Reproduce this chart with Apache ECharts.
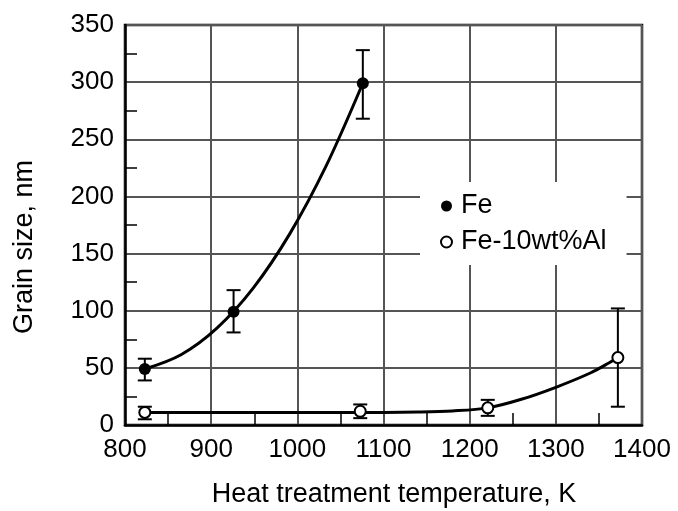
<!DOCTYPE html>
<html>
<head>
<meta charset="utf-8">
<script src="https://cdn.jsdelivr.net/npm/echarts@6/dist/echarts.min.js"></script>
<style>html,body{margin:0;padding:0;background:#fff}#c{width:678px;height:511px}</style>
</head>
<body>
<div id="c"></div>
<script>
// Data
var feX = [823, 926, 1076];
var feY = [49, 99, 299];
var feLow = [39, 81, 268];
var feHigh = [58, 118, 328];

var alX = [823, 1073, 1221, 1372];
var alY = [11, 12, 15, 59];
var alLow = [5, 6, 8, 16];
var alHigh = [16, 18, 22, 102];

// Fitted curves
var feCurveX = [823, 865, 907, 949, 991, 1033, 1076];
var feCurveY = [49, 61.5, 85, 120, 167, 226, 299];
var alCurveX = [823, 1000, 1100, 1140, 1180, 1221, 1260, 1300, 1340, 1362, 1372];
var alCurveY = [11, 11, 11, 11.3, 12.3, 15, 22.5, 33, 45.5, 54.5, 59];

var xTicks = [800, 900, 1000, 1100, 1200, 1300, 1400];
var yTicks = [0, 50, 100, 150, 200, 250, 300, 350];

var FONT = '"Liberation Sans", Arial, Helvetica, sans-serif';

function pairs(xs, ys) { return xs.map(function (x, i) { return [x, ys[i]]; }); }
function bars(xs, lo, hi) { return xs.map(function (x, i) { return [x, lo[i], hi[i]]; }); }

function errRender(params, api) {
  var x = api.value(0);
  var lo = api.coord([x, api.value(1)]);
  var hi = api.coord([x, api.value(2)]);
  var w = 7;
  var st = { stroke: '#000', lineWidth: 2 };
  return {
    type: 'group',
    children: [
      { type: 'line', shape: { x1: lo[0], y1: lo[1], x2: hi[0], y2: hi[1] }, style: st },
      { type: 'line', shape: { x1: lo[0] - w, y1: lo[1], x2: lo[0] + w, y2: lo[1] }, style: st },
      { type: 'line', shape: { x1: hi[0] - w, y1: hi[1], x2: hi[0] + w, y2: hi[1] }, style: st }
    ]
  };
}

var chart = echarts.init(document.getElementById('c'), null, { renderer: 'canvas' });
var option = {
  backgroundColor: '#fff',
  animation: false,
  grid: { left: 125, right: 36, top: 25, bottom: 86, show: true, borderColor: '#000', borderWidth: 2.5, backgroundColor: 'transparent' },
  xAxis: {
    type: 'value', min: xTicks[0], max: xTicks[xTicks.length - 1], interval: 100,
    axisLine: { show: true, onZero: false, lineStyle: { color: '#000', width: 2.5 } },
    axisTick: { show: false, inside: true },
    minorTick: { show: true, splitNumber: 2, length: 12, lineStyle: { color: '#000', width: 1.5 } },
    axisLabel: { fontSize: 26, fontFamily: FONT, color: '#000', margin: 12, formatter: function (v) { return String(v); } },
    splitLine: { show: true, lineStyle: { color: '#555', width: 2 } }
  },
  yAxis: {
    type: 'value', min: yTicks[0], max: yTicks[yTicks.length - 1], interval: 50,
    axisLine: { show: true, onZero: false, lineStyle: { color: '#000', width: 2.5 } },
    axisTick: { show: false, inside: true },
    minorTick: { show: true, splitNumber: 2, length: 12, lineStyle: { color: '#000', width: 1.5 } },
    axisLabel: { fontSize: 26, fontFamily: FONT, color: '#000', margin: 11, formatter: function (v) { return String(v); } },
    splitLine: { show: true, lineStyle: { color: '#555', width: 2 } }
  },
  legend: {
    orient: 'vertical', left: 420, top: 182,
    backgroundColor: '#fff',
    padding: [10, 20, 9, 20],
    itemWidth: 11, itemHeight: 11, itemGap: 8,
    textStyle: { fontSize: 27, fontFamily: FONT, color: '#000', lineHeight: 28, padding: [0, 0, 0, 4] },
    data: [
      { name: 'Fe', icon: 'circle' },
      { name: 'Fe-10wt%Al', icon: 'circle' }
    ],
    z: 10
  },
  graphic: [
    { type: 'text', x: 394, y: 495, style: { text: 'Heat treatment temperature, K', font: '27px ' + FONT, fill: '#000', textAlign: 'center', textVerticalAlign: 'middle' } },
    { type: 'text', x: 25, y: 247, rotation: Math.PI / 2, style: { text: 'Grain size, nm', font: '27px ' + FONT, fill: '#000', textAlign: 'center', textVerticalAlign: 'middle' } }
  ],
  series: [
    { name: 'feCurve', type: 'line', data: pairs(feCurveX, feCurveY), smooth: 0.33, showSymbol: false, lineStyle: { color: '#000', width: 3 }, z: 3, silent: true },
    { name: 'alCurve', type: 'line', data: pairs(alCurveX, alCurveY), smooth: 0.33, showSymbol: false, lineStyle: { color: '#000', width: 3 }, z: 3, silent: true },
    { name: 'feErr', type: 'custom', renderItem: errRender, data: bars(feX, feLow, feHigh), z: 4, encode: { x: 0, y: [1, 2] } },
    { name: 'alErr', type: 'custom', renderItem: errRender, data: bars(alX, alLow, alHigh), z: 4, encode: { x: 0, y: [1, 2] } },
    { name: 'Fe', type: 'scatter', data: pairs(feX, feY), symbol: 'circle', symbolSize: 12, itemStyle: { color: '#000', borderColor: '#000', borderWidth: 0, opacity: 1 }, z: 6 },
    { name: 'Fe-10wt%Al', type: 'scatter', data: pairs(alX, alY), symbol: 'circle', symbolSize: 11, itemStyle: { color: '#fff', borderColor: '#000', borderWidth: 2, opacity: 1 }, z: 6 }
  ]
};
chart.setOption(option);
</script>
</body>
</html>
